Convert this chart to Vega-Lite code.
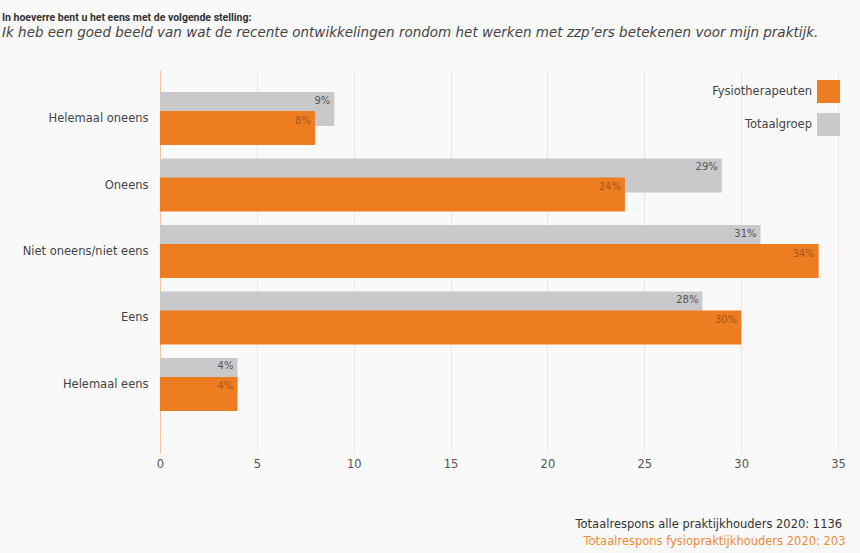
{
  "$schema": "https://vega.github.io/schema/vega-lite/v6.json",
  "width": 678,
  "height": 363,
  "autosize": {"type": "none"},
  "padding": {"left": 160, "top": 70, "right": 22, "bottom": 120},
  "background": "#f9f9f9",
  "config": {"font": "DejaVu Sans", "view": {"stroke": null}},
  "title": {
    "text": "In hoeverre bent u het eens met de volgende stelling:",
    "subtitle": "Ik heb een goed beeld van wat de recente ontwikkelingen rondom het werken met zzp’ers betekenen voor mijn praktijk.",
    "anchor": "start",
    "frame": "group",
    "dx": -158,
    "offset": 31,
    "font": "Roboto",
    "fontSize": 10.5,
    "fontWeight": "bold",
    "color": "#333333",
    "subtitleFont": "DejaVu Sans",
    "subtitleFontSize": 13.5,
    "subtitleFontStyle": "italic",
    "subtitleColor": "#444444",
    "subtitlePadding": 2
  },
  "data": {
    "values": [
      {"category": "Helemaal oneens", "group": "Totaalgroep", "value": 9, "label": "9%"},
      {"category": "Helemaal oneens", "group": "Fysiotherapeuten", "value": 8, "label": "8%"},
      {"category": "Oneens", "group": "Totaalgroep", "value": 29, "label": "29%"},
      {"category": "Oneens", "group": "Fysiotherapeuten", "value": 24, "label": "24%"},
      {"category": "Niet oneens/niet eens", "group": "Totaalgroep", "value": 31, "label": "31%"},
      {"category": "Niet oneens/niet eens", "group": "Fysiotherapeuten", "value": 34, "label": "34%"},
      {"category": "Eens", "group": "Totaalgroep", "value": 28, "label": "28%"},
      {"category": "Eens", "group": "Fysiotherapeuten", "value": 30, "label": "30%"},
      {"category": "Helemaal eens", "group": "Totaalgroep", "value": 4, "label": "4%"},
      {"category": "Helemaal eens", "group": "Fysiotherapeuten", "value": 4, "label": "4%"}
    ]
  },
  "encoding": {
    "y": {
      "field": "category",
      "type": "nominal",
      "sort": ["Helemaal oneens", "Oneens", "Niet oneens/niet eens", "Eens", "Helemaal eens"],
      "scale": {"type": "point", "padding": 0.73},
      "axis": {
        "title": "Totaalrespons fysiopraktijkhouders 2020: 203",
        "titleAngle": 0,
        "titleX": 423,
        "titleY": 474,
        "titleAlign": "left",
        "titleBaseline": "alphabetic",
        "titleFontSize": 11.5,
        "titleFontWeight": "normal",
        "titleColor": "#f08a36",
        "domain": false,
        "ticks": false,
        "grid": false,
        "labelPadding": 12,
        "labelFontSize": 11.5,
        "labelColor": "#444444"
      }
    },
    "x": {
      "field": "value",
      "type": "quantitative",
      "scale": {"domain": [0, 35], "nice": false},
      "axis": {
        "title": "Totaalrespons alle praktijkhouders 2020: 1136",
        "titleX": 415,
        "titleY": 94,
        "titleAlign": "left",
        "titleAnchor": "start",
        "titleBaseline": "alphabetic",
        "titleFontSize": 11.5,
        "titleFontWeight": "normal",
        "titleColor": "#333333",
        "values": [0, 5, 10, 15, 20, 25, 30, 35],
        "grid": true,
        "gridColor": {"condition": {"test": "datum.value === 0", "value": "#f3c39a"}, "value": "#efe6dc"},
        "tickColor": {"condition": {"test": "datum.value === 0", "value": "#f3c39a"}, "value": "#efe6dc"},
        "tickSize": 20,
        "domain": false,
        "labelColor": "#555555",
        "labelFontSize": 11.5,
        "labelPadding": 5,
        "labelFlush": false
      }
    }
  },
  "layer": [
    {
      "transform": [{"filter": "datum.group === 'Totaalgroep'"}],
      "mark": {"type": "bar", "height": 34, "yOffset": -9.5},
      "encoding": {
        "color": {
          "field": "group",
          "type": "nominal",
          "scale": {"domain": ["Fysiotherapeuten", "Totaalgroep"], "range": ["#ee7d22", "#c9c9cb"]},
          "legend": {
            "orient": "none",
            "legendX": 657,
            "legendY": 10,
            "title": null,
            "symbolType": "square",
            "symbolSize": 529,
            "symbolStrokeWidth": 0,
            "symbolOpacity": 1,
            "labelAlign": "right",
            "labelOffset": -28,
            "rowPadding": 10,
            "labelFontSize": 11.5,
            "labelColor": "#444444",
            "padding": 0
          }
        }
      }
    },
    {
      "transform": [{"filter": "datum.group === 'Fysiotherapeuten'"}],
      "mark": {"type": "bar", "height": 34, "yOffset": 9.5},
      "encoding": {
        "color": {"field": "group", "type": "nominal"}
      }
    },
    {
      "transform": [{"filter": "datum.group === 'Totaalgroep'"}],
      "mark": {"type": "text", "align": "right", "baseline": "middle", "dx": -4, "dy": -18, "fontSize": 10, "color": "#555555"},
      "encoding": {"text": {"field": "label"}}
    },
    {
      "transform": [{"filter": "datum.group === 'Fysiotherapeuten'"}],
      "mark": {"type": "text", "align": "right", "baseline": "middle", "dx": -4, "dy": 2, "fontSize": 10, "color": "#a8561a"},
      "encoding": {"text": {"field": "label"}}
    }
  ]
}
